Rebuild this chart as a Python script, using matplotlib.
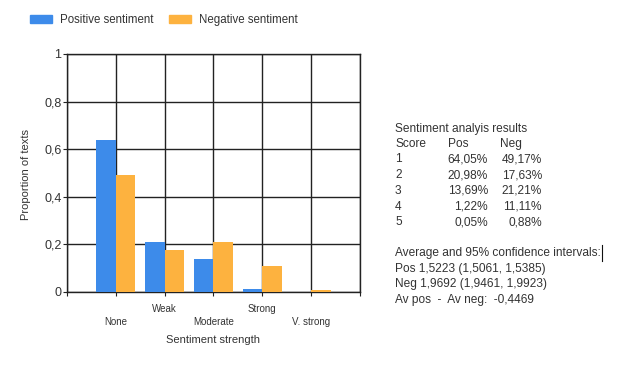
import matplotlib
matplotlib.use("Agg")
from matplotlib import pyplot as plt
from matplotlib.patches import Patch
from matplotlib.lines import Line2D
import numpy as np

plt.rcParams['font.family'] = ['Liberation Sans', 'DejaVu Sans']

categories = ["None", "Weak", "Moderate", "Strong", "V. strong"]
pos_share = [0.6405, 0.2098, 0.1369, 0.0122, 0.0005]
neg_share = [0.4917, 0.1763, 0.2121, 0.1111, 0.0088]
y_ticks = [0, 0.2, 0.4, 0.6, 0.8, 1.0]
y_labels = ["0", "0,2", "0,4", "0,6", "0,8", "1"]

scores = ["1", "2", "3", "4", "5"]
pos_pct = ["64,05%", "20,98%", "13,69%", "1,22%", "0,05%"]
neg_pct = ["49,17%", "17,63%", "21,21%", "11,11%", "0,88%"]
summary = ["Average and 95% confidence intervals:",
           "Pos 1,5223 (1,5061, 1,5385)",
           "Neg 1,9692 (1,9461, 1,9923)",
           "Av pos  -  Av neg:  -0,4469"]

blue = "#3d8bea"
orange = "#fdb23f"
txt = "#333333"
W, H = 626, 369

fig = plt.figure(figsize=(6.26, 3.69), dpi=100)
ax = fig.add_axes([67/W, 1-292/H, 293/W, 238/H])

x = np.arange(1, len(categories)+1)
w = 0.4
ax.bar(x - w/2, pos_share, w, color=blue, zorder=3)
ax.bar(x + w/2, neg_share, w, color=orange, zorder=3)

ax.set_xlim(0, 6)
ax.set_ylim(0, 1)
ax.set_xticks(range(7))
ax.set_xticklabels([])
ax.set_yticks(y_ticks)
ax.set_yticklabels(y_labels, fontsize=9, color=txt)
ax.grid(True, color="#222222", linewidth=1, zorder=0)
for s in ax.spines.values():
    s.set_color("#222222")
    s.set_linewidth(1)
ax.tick_params(length=3, color="#222222", pad=1)

# staggered category labels
for i, c in enumerate(categories):
    yy = -0.07 if i % 2 else -0.128
    ax.text(x[i], yy, c, transform=ax.get_xaxis_transform(), ha="center", va="center",
            fontsize=7, color=txt)
ax.text(3, -0.2, "Sentiment strength", transform=ax.get_xaxis_transform(), ha="center",
        va="center", fontsize=8, color=txt)
fig.text(26/W, 1-175/H, "Proportion of texts", rotation=90, ha="center", va="center",
         fontsize=8, color=txt)

handles = [Patch(color=blue, label="Positive sentiment"),
           Patch(color=orange, label="Negative sentiment")]
fig.legend(handles=handles, loc="center left", bbox_to_anchor=(20/W, 1-20/H), ncol=2,
           frameon=False, fontsize=8.3, handlelength=1.9, handleheight=0.6,
           columnspacing=1.3, handletextpad=0.7, labelcolor=txt)

# results text block
fs = 8.6
fig.text(395/W, 1-129/H, "Sentiment analyis results", fontsize=fs, color=txt, va="center")
fig.text(395/W, 1-144/H, "Score", fontsize=fs, color=txt, va="center")
fig.text(448/W, 1-144/H, "Pos", fontsize=fs, color=txt, va="center")
fig.text(500/W, 1-144/H, "Neg", fontsize=fs, color=txt, va="center")
for i in range(len(scores)):
    yy = 1 - (159.5 + i*15.7)/H
    fig.text(395/W, yy, scores[i], fontsize=fs, color=txt, va="center")
    fig.text(488/W, yy, pos_pct[i], fontsize=fs, color=txt, va="center", ha="right")
    fig.text(542/W, yy, neg_pct[i], fontsize=fs, color=txt, va="center", ha="right")
for i, line in enumerate(summary):
    fig.text(395/W, 1 - (253 + i*15.7)/H, line, fontsize=fs, color=txt, va="center")

# text cursor after the first summary line
fig.add_artist(Line2D([602/W, 602/W], [1-245/H, 1-261/H], color="#111111", linewidth=0.8))

fig.savefig("out.png", dpi=100, facecolor="white")
